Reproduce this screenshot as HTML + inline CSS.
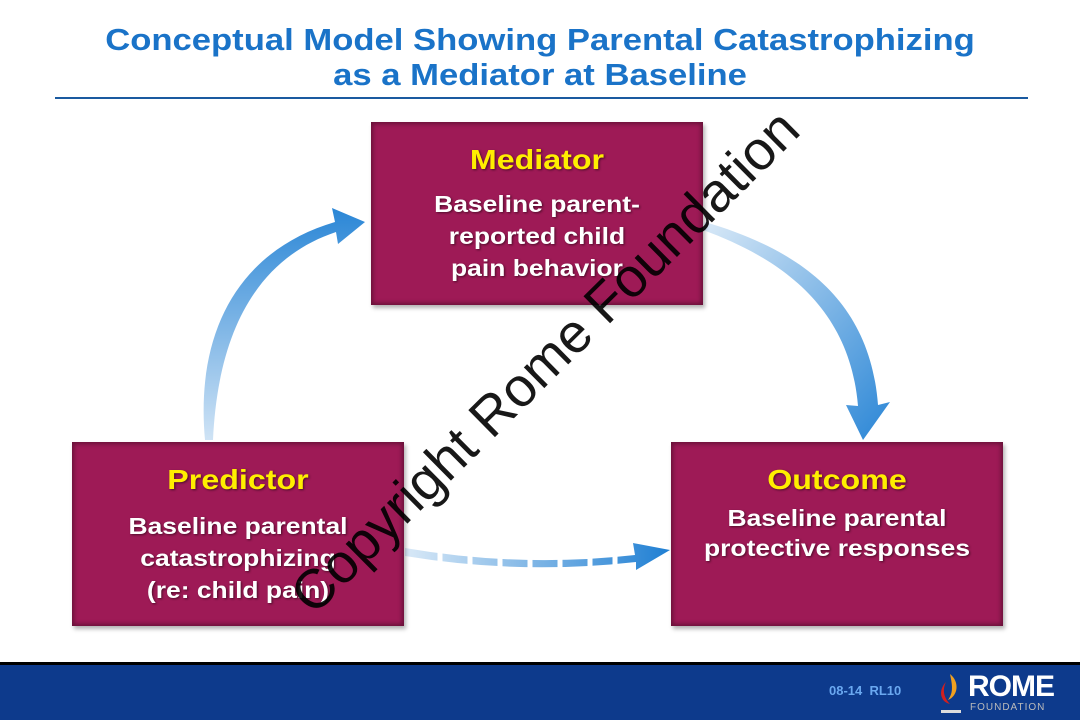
<!DOCTYPE html>
<html><head><style>
body{margin:0;width:1080px;height:720px;background:#fff;position:relative;overflow:hidden;font-family:"Liberation Sans",Arial,sans-serif}
.t{position:absolute;left:0;width:1080px;text-align:center;color:#1a73c8;font-weight:bold;font-size:31px;line-height:35px;top:22px;transform:scaleX(1.117)}
.box{position:absolute;background:#9e1a56;box-shadow:inset 0 0 4px 2px rgba(0,0,0,.35),2px 3px 4px rgba(0,0,0,.3);text-align:center;color:#fff;font-weight:bold}
.in{transform:scaleX(1.15)}
.box h{display:block;color:#ffee00;font-size:28px;margin-top:22px;text-shadow:1px 1px 2px rgba(0,0,0,.5)}
.box p{margin:10px 0 0;font-size:23px;line-height:31px;text-shadow:1px 1px 2px rgba(0,0,0,.5)}
</style></head><body>
<div class="t">Conceptual Model Showing Parental Catastrophizing<br>as a Mediator at Baseline</div>
<div style="position:absolute;left:55px;top:97px;width:973px;height:2px;background:#1a5aa0"></div>
<svg style="position:absolute;left:0;top:0" width="1080" height="720">
<defs><linearGradient id="g" x1="0" y1="1" x2="0" y2="0"><stop offset="0" stop-color="#cfe3f5"/><stop offset="1" stop-color="#2a86d6"/></linearGradient>
<linearGradient id="g2" x1="0" y1="0" x2="1" y2="1"><stop offset="0" stop-color="#d9e9f7"/><stop offset="1" stop-color="#2a86d6"/></linearGradient>
<linearGradient id="g3" x1="0" y1="0" x2="1" y2="0"><stop offset="0" stop-color="#d9e9f7"/><stop offset="1" stop-color="#1f7fd3"/></linearGradient></defs>
<path d="M205,440 C195,330 240,250 335,222 L332,208 L365,222 L338,244 L336,232 C258,258 218,330 213,440 Z" fill="url(#g)"/>
<path d="M705,222 C800,250 870,300 878,405 L890,402 L863,440 L846,405 L858,406 C850,310 785,260 703,230 Z" fill="url(#g2)"/>
<path d="M405,548 Q520,568 635,555 L633,543 L670,550 L636,570 L636,562 Q520,575 405,556 Z" fill="url(#g3)"/>
<g stroke="#fff" stroke-width="5"><line x1="440" y1="545" x2="440" y2="565"/><line x1="470" y1="545" x2="470" y2="570"/><line x1="500" y1="545" x2="500" y2="570"/><line x1="530" y1="545" x2="530" y2="570"/><line x1="560" y1="545" x2="560" y2="570"/><line x1="590" y1="545" x2="590" y2="570"/><line x1="615" y1="540" x2="615" y2="570"/></g>
</svg>
<div class="box" style="left:371px;top:122px;width:332px;height:183px"><div class="in"><h>Mediator</h><p style="margin-top:12px;line-height:32px">Baseline parent-<br>reported child<br>pain behavior</p></div></div>
<div class="box" style="left:72px;top:442px;width:332px;height:184px"><div class="in"><h>Predictor</h><p style="line-height:32px;margin-top:14px">Baseline parental<br>catastrophizing<br>(re: child pain)</p></div></div>
<div class="box" style="left:671px;top:442px;width:332px;height:184px"><div class="in"><h>Outcome</h><p style="margin-top:7px;line-height:30px">Baseline parental<br>protective responses</p></div></div>
<div style="position:absolute;left:140px;top:334px;width:810px;text-align:center;font-size:55px;color:#000;transform:rotate(-44.7deg);transform-origin:center;line-height:55px;opacity:.9">Copyright Rome Foundation</div>
<div style="position:absolute;left:0;top:662px;width:1080px;height:3px;background:#000"></div>
<div style="position:absolute;left:0;top:665px;width:1080px;height:55px;background:#0d3a8c"></div>
<div style="position:absolute;left:829px;top:683px;color:#6aa8f0;font-weight:bold;font-size:13px">08-14&nbsp; RL10</div>
<svg style="position:absolute;left:936px;top:670px" width="30" height="46"><path d="M14,4 C24,12 22,26 12,30 C18,22 16,14 14,4Z" fill="#f0a020"/><path d="M10,12 C2,20 4,32 14,34 C8,28 6,20 10,12Z" fill="#d02020"/><rect x="5" y="40" width="20" height="3" fill="#ddd"/></svg>
<div style="position:absolute;left:968px;top:672px;color:#fff;font-size:30px;font-weight:bold;line-height:30px;letter-spacing:-1px">ROME</div>
<div style="position:absolute;left:970px;top:702px;color:#bbb;font-size:10px;letter-spacing:1px">FOUNDATION</div>
</body></html>
